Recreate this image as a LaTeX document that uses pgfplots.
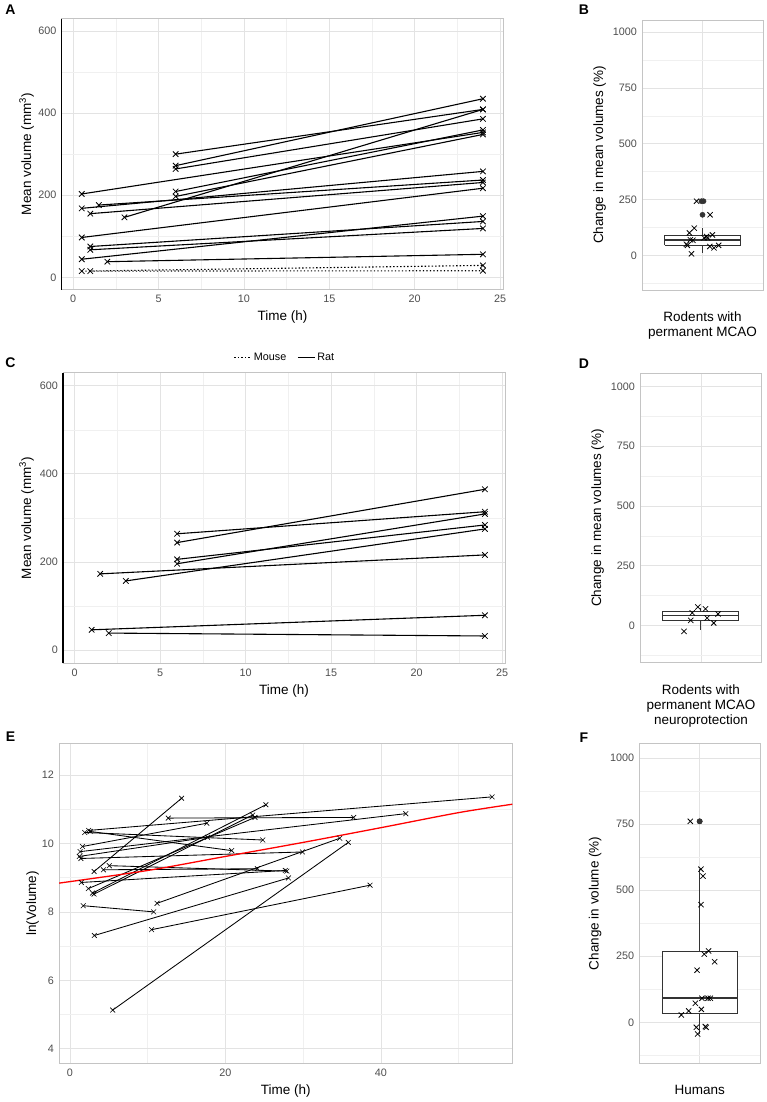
\documentclass[border=0pt]{standalone}
\usepackage{pgfplots}
\pgfplotsset{compat=1.18}
\usepackage{fontspec}
\setmainfont{Liberation Sans}
\definecolor{tickgray}{HTML}{4D4D4D}
\definecolor{gridmaj}{HTML}{E3E3E3}
\definecolor{gridmin}{HTML}{F0F0F0}
\definecolor{bordergray}{HTML}{C4C4C4}
\definecolor{boxgray}{HTML}{333333}
\pgfplotsset{
  base/.style={
    scale only axis,
    axis line style={bordergray, line width=0.7pt},
    grid=both,
    major grid style={gridmaj, line width=0.7pt},
    minor grid style={gridmin, line width=0.5pt},
    major tick length=0pt, minor tick length=0pt,
    tick style={draw=none},
    tick label style={font=\fontsize{10.8}{12}\selectfont, text=tickgray},
    /pgf/number format/assume math mode=true,
    /pgf/number format/1000 sep={},
    scaled ticks=false,
    yticklabel style={anchor=east, inner sep=0pt, xshift=-5pt},
    xticklabel style={anchor=north, inner sep=0pt, yshift=-5.5pt},
  },
  rat/.style={black, line width=1.1pt, mark=x, mark size=3.9pt, mark options={solid, line width=0.8pt}, forget plot},
  mouse/.style={rat, dash pattern=on 1.3pt off 2.2pt},
  hum/.style={black, line width=0.85pt, mark=x, mark size=3.4pt, mark options={solid, line width=0.6pt}, forget plot},
  jit/.style={only marks, black, mark=x, mark size=3.7pt, mark options={line width=0.75pt}, forget plot},
  outl/.style={only marks, boxgray, mark=*, mark size=2.6pt, forget plot},
  boxax/.style={base, xmin=0.4, xmax=1.6, ymin=-155, ymax=1055, xtick={1}, xticklabels={},
    ytick={0,250,500,750,1000}, minor ytick={-125,125,375,625,875}},
  bxline/.style={boxgray, line width=0.8pt, no marks, forget plot},
  bxbox/.style={boxgray, fill=white, line width=0.8pt, no marks, forget plot},
  bxmed/.style={boxgray, line width=1.8pt, no marks, forget plot},
}
\newcommand{\ttl}{\fontsize{13.5}{15.5}\selectfont}
\newcommand{\lett}{\fontsize{14}{16}\selectfont\bfseries}
\begin{document}
\begin{tikzpicture}
\useasboundingbox (0pt,0pt) rectangle (767pt,-1102pt);

% ---------------- Panel A ----------------
\begin{axis}[base, clip=false, at={(61.7pt,-289.6pt)}, anchor=south west, width=441.3pt, height=270.9pt,
  xmin=-0.675, xmax=25.175, ymin=-30, ymax=630,
  xtick={0,5,...,25}, minor xtick={2.5,7.5,...,22.5},
  ytick={0,200,400,600}, minor ytick={100,300,500},
  legend style={at={(0.506,-0.249)}, anchor=center, draw=none, fill=none, legend columns=2,
    font=\fontsize{10.8}{12}\selectfont, /tikz/every even column/.append style={column sep=9pt}},
  legend image code/.code={\draw[#1] (0pt,0pt) -- (17pt,0pt);}]
\addlegendimage{black, line width=1.1pt, dash pattern=on 1.3pt off 2.2pt}
\addlegendentry{Mouse}
\addlegendimage{black, line width=1.1pt}
\addlegendentry{Rat}
\addplot[rat] coordinates {(0.5,203) (24,353)};
\addplot[rat] coordinates {(0.5,168) (24,258)};
\addplot[rat] coordinates {(1,155) (24,231)};
\addplot[rat] coordinates {(1.5,176) (24,237)};
\addplot[rat] coordinates {(3,146) (24,409)};
\addplot[rat] coordinates {(6,300) (24,409)};
\addplot[rat] coordinates {(6,272) (24,435)};
\addplot[rat] coordinates {(6,264) (24,386)};
\addplot[rat] coordinates {(6,209) (24,359)};
\addplot[rat] coordinates {(6,197) (24,348)};
\addplot[rat] coordinates {(0.5,97) (24,217)};
\addplot[rat] coordinates {(1,75) (24,136)};
\addplot[rat] coordinates {(1,67) (24,119)};
\addplot[rat] coordinates {(0.5,44) (24,149)};
\addplot[rat] coordinates {(2,38) (24,56)};
\addplot[mouse] coordinates {(0.5,15) (24,29)};
\addplot[mouse] coordinates {(1,15) (24,16)};
\draw[black, line width=1.3pt] (rel axis cs:0,0) -- (rel axis cs:0,1);
\end{axis}

% ---------------- Panel B ----------------
\begin{axis}[boxax, at={(642pt,-290pt)}, anchor=south west, width=121pt, height=270pt]
\addplot[bxline] coordinates {(1,89) (1,122)};
\addplot[bxline] coordinates {(1,45) (1,10)};
\addplot[bxbox] coordinates {(0.625,45) (1.375,45) (1.375,89) (0.625,89) (0.625,45)};
\addplot[bxmed] coordinates {(0.625,70) (1.375,70)};
\addplot[outl] coordinates {(0.99,243) (1.01,243) (1,182)};
\addplot[jit] coordinates {(0.941,243) (1.075,182) (0.918,122) (0.87,101) (0.88,70) (0.905,68)
  (0.85,45) (0.89,7) (1.016,79) (1.05,79) (1.098,92) (1.072,40) (1.114,34) (1.16,45) (0.84,50) (1.04,85)};
\end{axis}

% ---------------- Panel C ----------------
\begin{axis}[base, clip=false, at={(63pt,-663.3pt)}, anchor=south west, width=442pt, height=290.8pt,
  xmin=-0.675, xmax=25.175, ymin=-30, ymax=630,
  xtick={0,5,...,25}, minor xtick={2.5,7.5,...,22.5},
  ytick={0,200,400,600}, minor ytick={100,300,500}]
\addplot[rat] coordinates {(1.5,173) (24,216)};
\addplot[rat] coordinates {(3,157) (24,275)};
\addplot[rat] coordinates {(6,264) (24,314)};
\addplot[rat] coordinates {(6,244) (24,365)};
\addplot[rat] coordinates {(6,206) (24,284)};
\addplot[rat] coordinates {(6,196) (24,309)};
\addplot[rat] coordinates {(1,46) (24,79)};
\addplot[rat] coordinates {(2,38.6) (24,32)};
\draw[black, line width=1.3pt] (rel axis cs:0,0) -- (rel axis cs:0,1);
\end{axis}

% ---------------- Panel D ----------------
\begin{axis}[boxax, at={(640pt,-662.7pt)}, anchor=south west, width=121.7pt, height=289.4pt]
\addplot[bxline] coordinates {(1,60) (1,75)};
\addplot[bxline] coordinates {(1,21) (1,-17)};
\addplot[bxbox] coordinates {(0.625,21) (1.375,21) (1.375,60) (0.625,60) (0.625,21)};
\addplot[bxmed] coordinates {(0.625,42) (1.375,42)};
\addplot[jit] coordinates {(0.834,-24) (0.90,22) (0.915,53) (0.97,78) (1.046,70) (1.062,32) (1.127,11) (1.17,49)};
\end{axis}

% ---------------- Panel E ----------------
\begin{axis}[base, at={(59pt,-1063.3pt)}, anchor=south west, width=453.3pt, height=320pt,
  xmin=-1.415, xmax=56.9, ymin=3.575, ymax=12.925,
  xtick={0,20,40}, minor xtick={10,30,50},
  ytick={4,6,8,10,12}, minor ytick={5,7,9,11}]
\addplot[hum] coordinates {(3.1,9.18) (14.36,11.32)};
\addplot[hum] coordinates {(5.49,5.13) (35.8,10.03)};
\addplot[hum] coordinates {(10.5,7.48) (38.6,8.78)};
\addplot[hum] coordinates {(3.13,7.31) (28.1,8.99)};
\addplot[hum] coordinates {(1.7,8.18) (10.76,8.00)};
\addplot[hum] coordinates {(11.2,8.25) (34.7,10.15)};
\addplot[hum] coordinates {(1.46,8.86) (27.7,9.21)};
\addplot[hum] coordinates {(5.06,9.35) (27.9,9.19)};
\addplot[hum] coordinates {(4.3,9.23) (24.1,9.26)};
\addplot[hum] coordinates {(2.36,8.68) (23.8,10.76)};
\addplot[hum] coordinates {(2.9,8.55) (25.2,11.13)};
\addplot[hum] coordinates {(3.1,8.52) (23.5,10.83)};
\addplot[hum] coordinates {(2.4,10.38) (54.3,11.36)};
\addplot[hum] coordinates {(1.9,10.32) (24.8,10.10)};
\addplot[hum] coordinates {(2.6,10.35) (20.8,9.79)};
\addplot[hum] coordinates {(12.64,10.74) (36.5,10.76)};
\addplot[hum] coordinates {(1.3,9.76) (43.2,10.87)};
\addplot[hum] coordinates {(1.6,9.91) (17.6,10.59)};
\addplot[hum] coordinates {(1.2,9.62) (17.7,10.18)};
\addplot[hum] coordinates {(1.4,9.56) (29.9,9.75)};
\addplot[red, line width=1.3pt, smooth, forget plot] coordinates {(-1.415,8.84) (10,9.21) (20,9.62) (30,10.03) (40,10.46) (50,10.9) (56.9,11.145)};
\end{axis}

% ---------------- Panel F ----------------
\begin{axis}[boxax, at={(639.3pt,-1063.3pt)}, anchor=south west, width=120.7pt, height=320pt]
\addplot[bxline] coordinates {(1,268) (1,581)};
\addplot[bxline] coordinates {(1,34) (1,-44)};
\addplot[bxbox] coordinates {(0.625,34) (1.375,34) (1.375,268) (0.625,268) (0.625,34)};
\addplot[bxmed] coordinates {(0.625,91) (1.375,91)};
\addplot[outl] coordinates {(0.999,760) (1.001,760)};
\addplot[jit] coordinates {(0.907,760) (1.013,579) (1.033,553) (1.013,445) (1.089,270) (1.046,258)
  (1.149,229) (0.974,197) (1.023,91) (1.083,91) (1.106,91) (0.957,72) (0.891,43) (0.818,28)
  (1.017,49) (0.967,-19) (0.98,-44) (1.056,-16) (1.066,-19)};
\end{axis}

% ---------------- Texts ----------------
\node[anchor=center, font=\lett] at (10.5pt,-10pt) {A};
\node[anchor=center, font=\lett] at (584pt,-10pt) {B};
\node[anchor=center, font=\lett] at (10.5pt,-363pt) {C};
\node[anchor=center, font=\lett] at (584pt,-364pt) {D};
\node[anchor=center, font=\lett] at (10.5pt,-736.7pt) {E};
\node[anchor=center, font=\lett] at (584pt,-737.5pt) {F};

\node[rotate=90, anchor=base, font=\ttl] at (31pt,-154pt) {Mean volume (mm\textsuperscript{3})};
\node[rotate=90, anchor=base, font=\ttl] at (31pt,-518pt) {Mean volume (mm\textsuperscript{3})};
\node[rotate=90, anchor=base, font=\ttl] at (36pt,-903.3pt) {ln(Volume)};
\node[rotate=90, anchor=base, font=\ttl] at (603pt,-155pt) {Change in mean volumes (\%)};
\node[rotate=90, anchor=base, font=\ttl] at (601pt,-518pt) {Change in mean volumes (\%)};
\node[rotate=90, anchor=base, font=\ttl] at (598.5pt,-903.3pt) {Change in volume (\%)};

\node[anchor=base, font=\ttl] at (282.4pt,-320.6pt) {Time (h)};
\node[anchor=base, font=\ttl] at (284pt,-694.3pt) {Time (h)};
\node[anchor=base, font=\ttl] at (285.7pt,-1094.8pt) {Time (h)};

\node[anchor=base, font=\ttl] at (702.5pt,-321.2pt) {Rodents with};
\node[anchor=base, font=\ttl] at (702.5pt,-336.4pt) {permanent MCAO};
\node[anchor=base, font=\ttl] at (700.9pt,-694.3pt) {Rodents with};
\node[anchor=base, font=\ttl] at (700.9pt,-709.5pt) {permanent MCAO};
\node[anchor=base, font=\ttl] at (700.9pt,-724.7pt) {neuroprotection};
\node[anchor=base, font=\ttl] at (699.7pt,-1094.8pt) {Humans};
\end{tikzpicture}
\end{document}
